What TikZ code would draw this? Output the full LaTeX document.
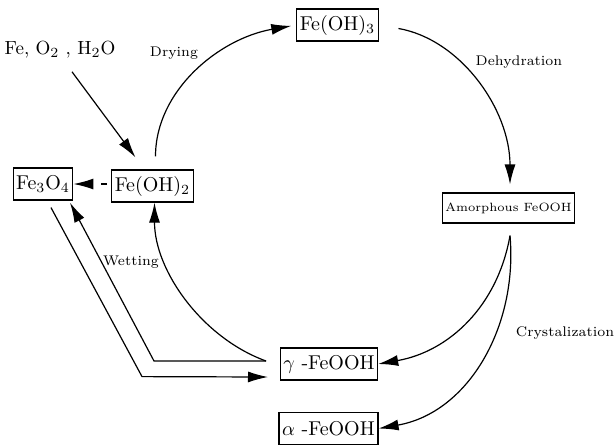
\documentclass[tikz,border=0pt]{standalone}
\usepackage{amsmath}
\usepackage{tikz}
\usetikzlibrary{arrows.meta, calc}

\begin{document}
\begin{tikzpicture}[
        x=0.5pt, y=-0.5pt,
        semithick,
        >={Latex[length=10pt,width=5.5pt]},
        phase/.style={
            rectangle,
            draw,
            inner xsep=1.5pt,
            inner ysep=0pt,
            minimum height=16pt,
            font=\fontsize{10}{12}\selectfont
        },
        proc/.style={
            font=\fontsize{7}{8}\selectfont
        }
    ]

    \useasboundingbox (0,0) rectangle (616,447);

    % Nodes
    \node[phase] (feoh3) at (337.5,25) {Fe(OH)$_3$};
    \node[phase] (feoh2) at (152.5,186) {Fe(OH)$_2$};
    \node[phase] (fe3o4) at (43,184) {Fe$_3$O$_4$};
    \node[phase, font=\fontsize{6}{7}\selectfont, minimum height=15pt] (amorph) at (508.5,208) {Amorphous FeOOH};
    \node[phase] (gamma) at (329,364) {$\gamma$ -FeOOH};
    \node[phase, thick] (alpha) at (328.5,428.5) {$\alpha$ -FeOOH};
    \node[font=\fontsize{9.5}{11}\selectfont] (react) at (60,50) {Fe, O$_2$ , H$_2$O};

    % Labels
    \node[proc] (drying) at (174,53) {Drying};
    \node[proc] (dehyd) at (519,62) {Dehydration};
    \node[proc] (wetting) at (131,262) {Wetting};
    \node[proc] (cryst) at (565,333) {Crystalization};

    % Free ends
    \coordinate (split) at ($(amorph.south)+(1.5,12)$);
    \coordinate (loopa) at (266,361);
    \coordinate (loopb) at (268,377);

    % Arrows
    \draw[->] ($(react.south)+(12,6)$) -- ($(feoh2.north)+(-17,-12)$);
    \draw[->, dash pattern=on 3pt off 20pt] ($(feoh2.west)+(-4,-2)$) -- (fe3o4.east);
    \draw[->, shorten <=6.5pt, shorten >=2.5pt] ($(feoh2.north)+(3,0)$) to[out=90, in=190] (feoh3.west);
    \draw[->, shorten <=10pt, shorten >=4pt] (feoh3.east) to[out=-10, in=90] ($(amorph.north)+(1.5,0)$);
    \draw[->] (split) to[out=-100, in=10] (gamma.east);
    \draw[->] (split) to[out=-85, in=10] (alpha.east);
    \draw[->] (loopa) to[out=160, in=-90, looseness=0.9] ($(feoh2.south)+(2,0)$);
    \draw[->] (loopa) -- ++(-112,0) -- ($(fe3o4.south)+(27,2)$);
    \draw[->] ($(fe3o4.south)+(8,7)$) -- ++(91,169) -- (loopb);

\end{tikzpicture}
\end{document}
